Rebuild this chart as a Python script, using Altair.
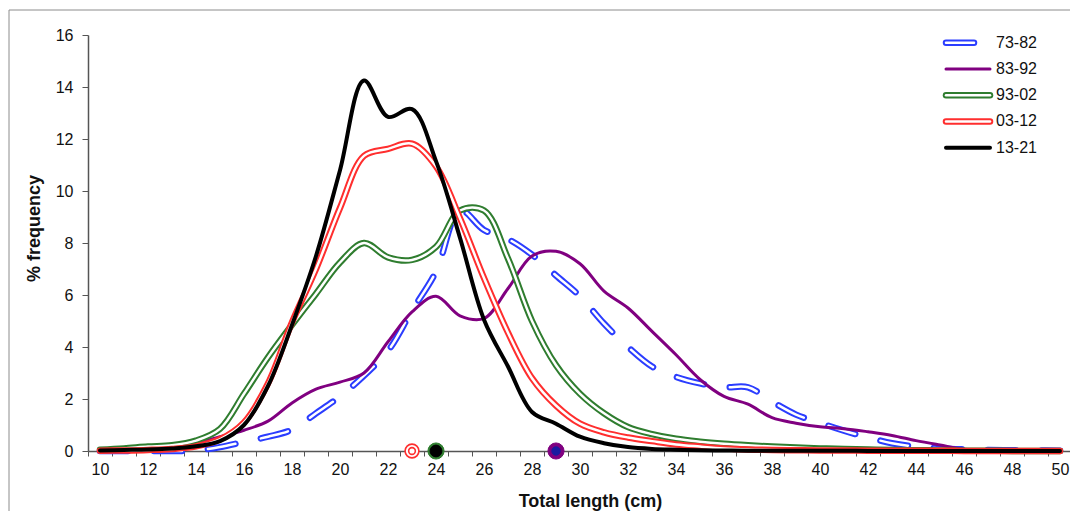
import altair as alt
import pandas as pd

# ---------------- data ----------------
lengths = list(range(10, 51))
series_names = ["73-82", "83-92", "93-02", "03-12", "13-21"]

freq_73_82 = [0, 0, 0, 0, 0.02, 0.15, 0.35, 0.55, 0.82, 1.45,
              2.1, 2.9, 3.85, 5.4, 6.9, 9.25, 8.5, 8.15, 7.55, 6.75,
              5.95, 4.9, 4.0, 3.25, 2.85, 2.6, 2.45, 2.45, 1.9, 1.4,
              1.08, 0.78, 0.52, 0.3, 0.17, 0.1, 0.06, 0.04, 0.03, 0.02, 0.01]
freq_83_92 = [0.02, 0.03, 0.06, 0.12, 0.3, 0.55, 0.8, 1.15, 1.85, 2.38,
              2.65, 3.0, 4.2, 5.35, 5.95, 5.2, 5.1, 6.25, 7.5, 7.68,
              7.2, 6.15, 5.5, 4.6, 3.7, 2.75, 2.1, 1.8, 1.28, 1.07,
              0.93, 0.86, 0.74, 0.6, 0.4, 0.23, 0.07, 0.03, 0.02, 0.02, 0.01]
freq_93_02 = [0.05, 0.1, 0.17, 0.22, 0.4, 0.85, 2.2, 3.6, 4.85, 6.05,
              7.25, 8.0, 7.45, 7.35, 7.85, 9.25, 9.25, 7.4, 5.0, 3.3,
              2.2, 1.45, 0.92, 0.65, 0.47, 0.36, 0.28, 0.22, 0.17, 0.13,
              0.1, 0.08, 0.06, 0.04, 0.03, 0.02, 0.01, 0.01, 0, 0, 0]
freq_03_12 = [0.01, 0.02, 0.04, 0.08, 0.18, 0.45, 1.1, 2.6, 4.95, 7.0,
              9.35, 11.35, 11.62, 11.82, 10.95, 8.95, 6.65, 4.55, 2.8, 1.75,
              1.05, 0.72, 0.52, 0.38, 0.25, 0.17, 0.1, 0.06, 0.04, 0.03,
              0.02, 0.02, 0.01, 0.01, 0.01, 0.01, 0, 0, 0, 0, 0]
freq_13_21 = [0.02, 0.04, 0.06, 0.1, 0.18, 0.38, 1.0, 2.5, 4.85, 7.5,
              10.8, 14.25, 12.85, 13.15, 11.15, 8.2, 5.05, 3.25, 1.5, 1.05,
              0.55, 0.3, 0.15, 0.08, 0.05, 0.03, 0.02, 0.01, 0.01, 0.01,
              0.01, 0.01, 0, 0, 0, 0, 0, 0, 0, 0, 0]
mean_length = [29, 29, 24, 23, 24]

x_tick_positions = [v + 0.5 for v in range(9, 50)]   # ticks between categories
y_tick_values = list(range(0, 17, 2))

series_values = [freq_73_82, freq_83_92, freq_93_02, freq_03_12, freq_13_21]
rows = []
for name, vals in zip(series_names, series_values):
    for L, v in zip(lengths, vals):
        rows.append({"series": name, "length": L, "freq": v})
df = pd.DataFrame(rows)
means_df = pd.DataFrame({"series": series_names, "length": mean_length,
                         "freq": [0] * len(series_names)})
legend_df = pd.DataFrame({"series": series_names})
frame_df = pd.DataFrame({"k": [0]})

# ---------------- styles ----------------
FONT = "Liberation Sans"
styles = {
    "73-82": dict(color="#2b3dff", width=6.5, inner=2.5, dash=[28, 26]),
    "83-92": dict(color="#800080", width=3, inner=0),
    "93-02": dict(color="#2f7d2f", width=6.5, inner=2.5),
    "03-12": dict(color="#ff2e2e", width=6.5, inner=2.5),
    "13-21": dict(color="#000000", width=4, inner=0),
}

W, H = 982, 416
X_MAX = 9.5 + W / 24.0

x_axis = alt.Axis(
    values=x_tick_positions,
    labelExpr="(datum.value + 0.5) % 2 == 0 ? format(datum.value + 0.5, 'd') : ''",
    labelOffset=12, labelFlush=False, labelOverlap=False, labelBound=False,
    tickSize=5, tickColor="#555555", tickWidth=1,
    domainColor="#555555", domainWidth=1.5,
    labelFont=FONT, labelFontSize=16, labelColor="#111111", labelPadding=5,
    titleFont=FONT, titleFontSize=18, titleFontWeight="bold", titleColor="#111111",
    titleX=502, titleY=55, titleBaseline="alphabetic", titleAlign="center",
    grid=False,
)
y_axis = alt.Axis(
    values=y_tick_values, format="d",
    tickSize=6, tickColor="#555555", tickWidth=1,
    domainColor="#555555", domainWidth=1.5,
    labelFont=FONT, labelFontSize=16, labelColor="#111111", labelPadding=9,
    titleFont=FONT, titleFontSize=18, titleFontWeight="bold", titleColor="#111111",
    titleX=-54, titleY=193, titleAngle=-90, titleBaseline="middle", titleAlign="center",
    grid=False,
)

x_enc = alt.X("length:Q", scale=alt.Scale(domain=[9.5, X_MAX], nice=False, zero=False),
              axis=x_axis, title="Total length (cm)")
y_enc = alt.Y("freq:Q", scale=alt.Scale(domain=[0, 16], nice=False),
              axis=y_axis, title="% frequency")

main_layers = []
for name in series_names:
    st = styles[name]
    kw = dict(strokeWidth=st["width"], strokeCap="round", strokeJoin="round",
              interpolate="catmull-rom", color=st["color"])
    if "dash" in st:
        kw["strokeDash"] = st["dash"]
    base = alt.Chart(df).transform_filter(alt.datum.series == name)
    main_layers.append(base.mark_line(**kw).encode(x=x_enc, y=y_enc))
    if st["inner"]:
        kw2 = dict(kw)
        kw2["strokeWidth"] = st["inner"]
        kw2["color"] = "white"
        main_layers.append(base.mark_line(**kw2).encode(x=x_enc, y=y_enc))

# mean markers on the x axis
marker_specs = [
    ("83-92", 260, "#800080", "#800080", 1),
    ("73-82", 70, "#1a1aa0", "#1a1aa0", 1),
    ("93-02", 260, "#2f7d2f", "#2f7d2f", 1),
    ("13-21", 140, "#000000", "#000000", 1),
    ("03-12", 190, "#ffffff", "#ff2e2e", 1.6),
    ("03-12", 45, "#ffffff", "#ff2e2e", 1.6),
]
marker_layers = []
for name, size, fill, stroke, sw in marker_specs:
    marker_layers.append(
        alt.Chart(means_df).transform_filter(alt.datum.series == name)
        .mark_circle(size=size, fill=fill, stroke=stroke, strokeWidth=sw,
                     opacity=1, fillOpacity=1)
        .encode(x=x_enc, y=y_enc)
    )

frame = alt.Chart(frame_df).mark_rect(fillOpacity=0, stroke="#8c8c8c", strokeWidth=1).encode(
    x=alt.value(-79), x2=alt.value(1000), y=alt.value(-25), y2=alt.value(490)
)

# legend
leg_y = alt.Y("series:N", sort=series_names,
              scale=alt.Scale(type="point", domain=series_names, range=[7.7, 112.7], padding=0),
              axis=None)
legend_layers = []
for name in series_names:
    st = styles[name]
    kw = dict(strokeWidth=st["width"], strokeCap="round", color=st["color"])
    if "dash" in st:
        kw["strokeDash"] = st["dash"]
    base = alt.Chart(legend_df).transform_filter(alt.datum.series == name)
    legend_layers.append(base.mark_rule(**kw).encode(x=alt.value(858), x2=alt.value(902), y=leg_y))
    if st["inner"]:
        kw2 = dict(kw)
        kw2["strokeWidth"] = st["inner"]
        kw2["color"] = "white"
        legend_layers.append(base.mark_rule(**kw2).encode(x=alt.value(858), x2=alt.value(902), y=leg_y))
legend_layers.append(
    alt.Chart(legend_df).mark_text(align="left", baseline="middle", font=FONT, fontSize=16,
                                   color="#111111")
    .encode(x=alt.value(908), y=leg_y, text="series:N")
)

chart = (
    alt.layer(
        alt.layer(frame, *main_layers, *marker_layers),
        alt.layer(*legend_layers),
    )
    .resolve_scale(y="independent")
    .properties(width=W, height=H,
                autosize=alt.AutoSizeParams(type="none"),
                padding={"left": 80, "top": 27, "right": 0, "bottom": 60},
                background="white")
    .configure_view(strokeWidth=0)
)

chart.save("out.html", embed_options={"renderer": "svg", "actions": False})
